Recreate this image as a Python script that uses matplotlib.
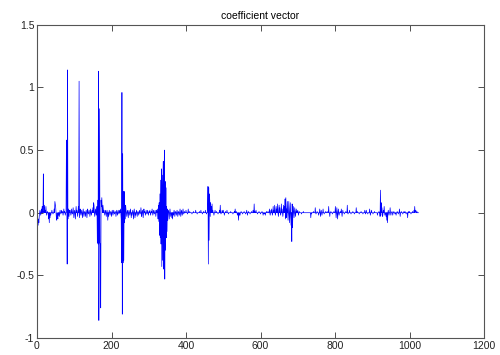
import numpy as np
import matplotlib
matplotlib.use("Agg")
import matplotlib.pyplot as plt

# coefficient vector, length 1024 (MATLAB 1-based index -> value), zero elsewhere
n_coef = 1024
coef_index = [
    1, 2, 3, 4, 5, 6, 8, 10, 12, 14, 15, 17, 18, 20, 22, 24, 26, 28, 31, 33, 35, 37, 40, 43, 46, 48, 49, 50,
    52, 53, 55, 56, 58, 60, 62, 64, 66, 68, 70, 72, 74, 76,
    79, 80, 81, 82, 83, 84, 86, 87,
    89, 91, 93, 95, 97, 99, 101, 103, 105, 107, 109, 111, 113, 114, 116, 118, 120, 122, 124, 126, 128,
    130, 132, 134, 136, 138, 140, 142, 144, 146, 148, 150, 152, 153, 155, 157, 159, 161,
    162, 163, 164, 165, 166, 167, 168, 169, 170, 171, 172, 173, 174, 175, 177, 178, 180,
    182, 184, 186, 188, 190, 192, 194, 196, 198, 200, 202, 204, 206, 208, 210, 212, 214, 216, 218, 220, 222, 224,
    226, 227, 228, 229, 230, 231, 232, 233, 234, 235, 236, 237, 238, 239,
    241, 243, 245, 247, 249, 251, 253, 255, 257, 259, 261, 263, 265, 267, 269, 271, 273, 275, 277, 279,
    281, 283, 285, 287, 289, 291, 293, 295, 297, 299, 301, 303, 305, 307, 309, 311, 313, 315, 317, 319, 321,
    323, 325, 326, 327, 328, 329, 330, 331, 332, 333, 334, 335, 336, 337, 338, 339, 340, 341, 342, 343, 344,
    345, 346, 347, 348, 349, 350, 351, 353, 355, 357, 359,
    362, 364, 366, 368, 370, 372, 374, 376, 378, 380, 382, 384, 386, 388, 390, 392, 394, 396, 400, 404, 406,
    410, 416, 420, 426, 430, 436, 440, 444, 447, 452, 455,
    458, 459, 460, 461, 462, 463, 464, 465, 466, 468, 470, 472, 475, 478, 482, 486, 490, 492, 494, 497, 500,
    503, 506, 510, 514, 520, 526, 530, 532, 535, 538, 541, 543, 545,
    548, 552, 556, 560, 563, 565, 568, 572, 576, 580, 583, 585, 588, 592, 596, 600, 604, 607, 610, 613, 616,
    620, 624, 626, 628, 630, 632, 634, 636, 638, 640, 642, 644, 646, 648, 650, 652, 654, 656, 658, 660, 662,
    664, 666, 667, 668, 669, 670, 672, 674, 676, 678, 680, 682, 684, 685, 686, 688, 690, 692, 694, 696, 698,
    700, 702, 704, 710, 715,
    735, 737, 742, 747, 749, 752, 756, 759, 761, 763, 765, 768, 771, 775, 779, 783, 786, 789, 793, 797, 801,
    803, 805, 807, 809, 811, 814, 817, 819, 821, 825, 829, 833, 835, 839, 843, 848, 852, 857, 860, 865, 870,
    875, 880, 882, 884, 888, 893, 895, 898, 902, 906,
    914, 918, 921, 922, 923, 924, 926, 928, 930, 932, 934, 937, 939, 941, 943, 945, 948, 950, 953, 955, 958,
    961, 964, 967, 970, 973, 975, 978, 982, 985, 988, 991, 995, 997, 1000, 1004, 1008, 1012, 1014, 1016,
    1017, 1020,
]
coef_value = [
    -0.03, -0.07, -0.10, -0.05, -0.08, -0.03, 0.02, -0.02, 0.03, 0.05, 0.02, 0.31, 0.05, 0.06, 0.02, 0.05,
    -0.02, 0.01, -0.05, -0.08, -0.04, -0.02, 0.02, -0.01, 0.03, 0.09, 0.07, 0.05,
    -0.04, -0.06, -0.03, -0.05, -0.02, -0.03, 0.02, -0.01, 0.02, 0.01, -0.02, 0.03, 0.01, -0.02,
    0.58, 0.40, -0.41, 1.14, -0.05, 0.03, -0.03, 0.02,
    0.02, -0.02, 0.03, -0.01, 0.04, -0.04, 0.02, -0.05, 0.05, 0.02, -0.03, 0.05, 1.05, -0.04, 0.03, -0.02,
    0.02, -0.04, 0.03, -0.03, 0.01,
    -0.03, 0.02, -0.04, 0.03, -0.01, 0.02, -0.03, 0.03, -0.02, 0.02, 0.04, 0.08, 0.06, -0.03, 0.03, -0.02, 0.05,
    -0.24, 0.10, -0.25, 1.13, -0.86, -0.25, 0.83, -0.24, -0.25, -0.76, 0.10, 0.05, 0.12, 0.04, 0.06, 0.03, 0.02,
    -0.02, 0.02, -0.03, 0.02, -0.06, -0.03, 0.02, -0.02, 0.01, -0.03, 0.02, -0.02, 0.02, -0.01, 0.01, -0.03,
    0.02, -0.02, 0.02, -0.01, 0.02, 0.03,
    -0.05, -0.40, 0.96, -0.81, 0.47, -0.40, 0.17, -0.38, 0.17, -0.08, 0.05, -0.05, 0.06, 0.02,
    -0.03, 0.02, -0.04, 0.02, -0.02, 0.03, -0.04, -0.02, 0.02, -0.05, 0.03, -0.04, -0.02, 0.02, -0.03, 0.01,
    -0.02, 0.02, -0.01, 0.04,
    -0.03, 0.02, -0.04, 0.03, 0.01, -0.02, 0.02, -0.01, 0.02, -0.02, 0.01, 0.02, -0.02, 0.01, 0.03, -0.02,
    0.02, -0.01, 0.02, -0.03, 0.02,
    0.03, -0.05, 0.06, -0.07, 0.08, -0.18, 0.15, -0.20, 0.26, -0.25, 0.35, -0.43, 0.30, -0.38, 0.22, 0.41,
    -0.45, 0.15, 0.50, -0.53, 0.25,
    -0.30, 0.20, -0.20, 0.05, -0.15, 0.03, -0.06, 0.02, -0.05, 0.03, -0.03,
    -0.04, -0.05, -0.02, 0.02, -0.03, 0.01, -0.02, 0.02, -0.03, 0.01, -0.02, 0.03, -0.03, 0.02, -0.02, 0.03,
    -0.01, 0.01, 0.02, -0.01, 0.03,
    0.01, -0.01, 0.01, 0.02, -0.01, 0.01, 0.02, -0.01, 0.01, 0.02, -0.01,
    0.05, 0.21, -0.41, 0.20, -0.22, 0.15, 0.08, -0.03, 0.08, 0.05, 0.07, 0.02, -0.02, 0.02, 0.01, -0.01,
    0.02, 0.06, -0.01, 0.02, 0.02,
    -0.02, 0.01, 0.02, -0.01, 0.01, -0.01, 0.01, 0.03, 0.01, -0.02, -0.06, -0.02, -0.02,
    0.01, -0.01, 0.01, -0.01, 0.02, -0.02, 0.01, -0.01, 0.01, 0.02, 0.07, 0.01, 0.02, -0.01, 0.01, -0.01,
    0.01, -0.02, -0.01, -0.02, 0.01,
    0.01, 0.03, -0.02, 0.02, 0.03, -0.02, 0.05, 0.02, 0.06, -0.02, 0.05, 0.03, 0.07, -0.03, 0.06, 0.04,
    -0.02, 0.07, 0.03, -0.03, 0.06,
    0.05, 0.11, -0.05, 0.12, -0.04, 0.03, 0.09, -0.06, 0.09, -0.08, 0.08, -0.10, -0.23, 0.07, -0.12, 0.05,
    -0.04, 0.04, -0.03, 0.03, 0.01,
    0.02, -0.02, 0.01, -0.01, 0.01,
    -0.04, -0.01, 0.01, 0.04, -0.01, 0.01, -0.02, 0.03, -0.03, 0.02, -0.02, 0.03, -0.01, 0.01, 0.01, 0.05,
    -0.03, 0.01, -0.01, 0.01, 0.05,
    -0.04, 0.04, -0.05, 0.03, -0.02, 0.01, 0.03, -0.03, 0.02, -0.01, 0.01, 0.06, -0.01, 0.02, -0.01, 0.01,
    -0.01, 0.04, 0.01, -0.01, 0.01,
    -0.01, 0.02, -0.01, 0.02, -0.01, 0.03, -0.02, 0.02, -0.01, 0.01,
    -0.02, 0.01, -0.03, 0.18, -0.02, 0.08, 0.04, -0.03, 0.02, 0.05, -0.02, -0.03, -0.06, -0.08, 0.02, -0.02,
    0.04, -0.02, 0.01, -0.02, 0.01,
    -0.01, -0.02, 0.01, -0.01, 0.03, -0.03, 0.01, -0.01, 0.01, 0.01, -0.01, -0.04, 0.01, 0.01, -0.01, 0.01,
    0.02, 0.05, 0.01,
    0.02, 0.01,
]

coefs = np.zeros(n_coef)
coefs[np.array(coef_index) - 1] = coef_value
x = np.arange(1, n_coef + 1)

plt.rcParams['font.family'] = ['Liberation Sans', 'DejaVu Sans']
fig = plt.figure(figsize=(5.0, 3.55), dpi=100)
ax = fig.add_axes([0.074, 0.048, 0.894, 0.882])
ax.plot(x, coefs, color='#0000ff', linewidth=0.5)

ax.set_xlim(0, 1200)
ax.set_ylim(-1, 1.5)
ax.set_xticks(np.arange(0, 1201, 200))
ax.set_yticks([-1, -0.5, 0, 0.5, 1, 1.5])
ax.set_yticklabels(['-1', '-0.5', '0', '0.5', '1', '1.5'])
ax.tick_params(direction='in', top=True, right=True, length=4, width=0.6,
               labelsize=7.5, color='#333333', labelcolor='#222222', pad=2)
for s in ax.spines.values():
    s.set_color('#555555')
    s.set_linewidth(0.8)
ax.set_title('coefficient vector', fontsize=7.5, pad=4)

fig.savefig('out.png', dpi=100, facecolor='white')
